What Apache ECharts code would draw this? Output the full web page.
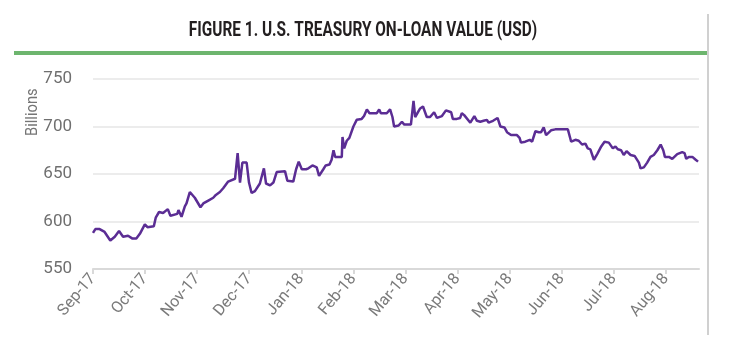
<!DOCTYPE html>
<html>
<head>
<meta charset="utf-8">
<script src="https://cdn.jsdelivr.net/npm/echarts@6/dist/echarts.min.js"></script>
<style>
  html, body { margin: 0; padding: 0; background: #fff; }
  #chart { width: 729px; height: 354px; }
</style>
</head>
<body>
<div id="chart"></div>
<script>
  // trading day index (0 = first day of Sep-17) of each vertex of the line
  var dayIdx = [
    0, 1.0, 2.8, 4.9, 5.7, 7.3, 9.2, 11.0, 12.7, 14.8, 15.5, 16.7, 18.3, 19.8,
    21.9, 23.0, 23.6, 25.7, 26.5, 27.9, 29.6, 31.6, 32.7, 35.6, 36.1, 36.7, 37.4,
    38.8, 39.5, 40.9, 43.0, 45.4, 46.6, 48.7, 50.8, 51.9, 53.6, 55.0, 57.1, 60.0,
    61.1, 62.1, 63.1, 64.9, 65.9, 66.6, 67.0, 68.4, 70.5, 71.2, 72.2, 73.1, 74.8,
    76.2, 77.6, 81.1, 82.1, 84.6, 85.8, 86.9, 88.2, 90.0, 91.0, 91.7, 92.7, 94.5,
    95.5, 97.3, 98.3, 99.9, 100.8, 101.6, 102.3, 105.1, 105.4, 106.1, 107.2, 108.3,
    110.0, 111.4, 113.5, 114.5, 115.7, 116.8, 119.9, 120.9, 121.6, 124.1, 125.5,
    126.5, 127.2, 129.1, 130.5, 131.5, 134.3, 135.4, 136.1, 138.2, 139.4, 141.0,
    142.4, 144.1, 145.3, 147.4, 149.1, 151.3, 152.0, 153.7, 155.1, 155.8, 156.8,
    159.4, 161.1, 162.2, 163.6, 165.0, 166.4, 167.1, 169.0, 170.9, 172.1, 173.8,
    174.9, 176.6, 179.1, 180.2, 180.8, 182.6, 184.5, 185.5, 186.9, 188.3, 189.3,
    190.4, 191.4, 193.5, 195.3, 196.0, 197.7, 200.6, 202.0, 203.8, 205.2, 206.6,
    208.0, 209.0, 210.1, 211.6, 213.0, 214.7, 216.1, 217.9, 219.6, 220.7, 221.7,
    223.1, 224.2, 225.4, 227.1, 228.8, 229.6, 230.6, 231.3, 232.7, 234.1, 235.5,
    236.9, 238.4, 239.8, 240.9, 241.6, 243.3, 244.7, 246.8, 248.9, 249.9, 250.6,
    251.7, 253.2, 254.6, 255.6
  ];
  // on-loan value, USD billions
  var onLoan = [
    588, 592, 592, 589, 587, 580, 584, 590, 584, 585, 586, 582, 582, 587,
    597, 594, 595, 595, 604, 610, 609, 613, 606, 608, 612, 612, 605,
    616, 619, 631, 625, 615, 619, 622, 625, 628, 631, 635, 642, 645,
    672, 641, 662, 662, 641, 639, 630, 632, 640, 641, 656, 640, 638,
    641, 652, 653, 643, 642, 655, 663, 655, 655, 656, 655, 659, 657,
    648, 655, 659, 660, 665, 675, 668, 668, 689, 677, 685, 688,
    700, 707, 708, 711, 718, 714, 714, 718, 714, 714, 718,
    710, 700, 701, 705, 702, 702, 727, 710, 719, 721, 710,
    710, 715, 709, 711, 717, 715, 708, 708, 709, 714, 712,
    704, 711, 706, 705, 706, 707, 704, 706, 709, 700, 699,
    694, 691, 691, 688, 683, 684, 686, 684, 695, 694, 694,
    699, 691, 696, 697, 696, 697, 697, 684, 686, 685, 681,
    682, 677, 676, 665, 671, 679, 684, 683, 677, 679, 676,
    675, 670, 674, 670, 669, 669, 662, 656, 657, 662, 668,
    670, 675, 681, 675, 668, 668, 666, 671, 673, 672, 666,
    668, 668, 665, 663
  ];
  var monthLabels = ['Sep-17', 'Oct-17', 'Nov-17', 'Dec-17', 'Jan-18', 'Feb-18',
                     'Mar-18', 'Apr-18', 'May-18', 'Jun-18', 'Jul-18', 'Aug-18'];
  var daysPerTick = 22;
  var tickDays = monthLabels.map(function (m, i) { return i * daysPerTick; });

  var labelFont = 'Roboto, sans-serif';
  var myChart = echarts.init(document.getElementById('chart'));
  var option = {
    animation: false,
    graphic: [
      {
        // title, squeezed to look like the condensed face of the original
        type: 'text',
        x: 363,
        y: 31,
        scaleX: 0.77,
        style: {
          text: 'FIGURE 1. U.S. TREASURY ON-LOAN VALUE (USD)',
          align: 'center',
          verticalAlign: 'middle',
          fontFamily: labelFont,
          fontSize: 20,
          fontWeight: 'bold',
          fill: '#231f20'
        }
      },
      {
        type: 'rect',
        shape: { x: 14, y: 51, width: 694, height: 4 },
        style: { fill: '#6db56e' }
      },
      {
        type: 'rect',
        shape: { x: 707, y: 14, width: 2, height: 321 },
        style: { fill: '#d0d0d0' }
      },
      {
        type: 'text',
        x: 25,
        y: 136,
        rotation: Math.PI / 2,
        scaleX: 0.92,
        style: {
          text: 'Billions',
          fontFamily: labelFont,
          fontSize: 16,
          fill: '#757575'
        }
      }
    ],
    grid: {
      left: 93,
      right: 30,
      top: 79,
      bottom: 85
    },
    xAxis: {
      type: 'value',
      min: 0,
      max: 256,
      axisLine: { lineStyle: { color: '#d9d9d9', width: 2 } },
      axisTick: {
        customValues: tickDays,
        length: 5,
        lineStyle: { color: '#d9d9d9', width: 2 }
      },
      axisLabel: {
        customValues: tickDays,
        rotate: 50,
        margin: 7,
        fontFamily: labelFont,
        fontSize: 16,
        color: '#7a7a7a',
        formatter: function (v) {
          return monthLabels[Math.round(v / daysPerTick)];
        }
      },
      splitLine: { show: false }
    },
    yAxis: {
      type: 'value',
      min: 550,
      max: 750,
      interval: 50,
      axisLine: { show: false },
      axisTick: { show: false },
      axisLabel: {
        margin: 21,
        fontFamily: labelFont,
        fontSize: 17,
        color: '#6f6f6f'
      },
      splitLine: { lineStyle: { color: '#ececec', width: 2 } }
    },
    series: [
      {
        name: 'On-loan value',
        type: 'line',
        symbol: 'none',
        data: dayIdx.map(function (d, i) { return [d, onLoan[i]]; }),
        lineStyle: { color: '#5b2d94', width: 2.5 }
      }
    ]
  };
  myChart.setOption(option);
</script>
</body>
</html>
